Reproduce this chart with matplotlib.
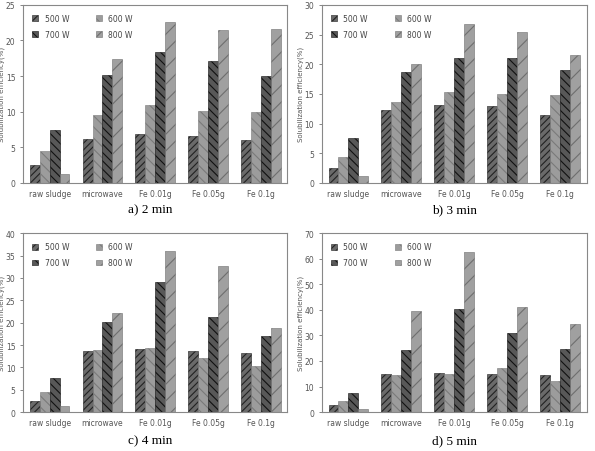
import numpy as np
import matplotlib.pyplot as plt

categories = ["raw sludge", "microwave", "Fe 0.01g", "Fe 0.05g", "Fe 0.1g"]
powers = ["500 W", "600 W", "700 W", "800 W"]

# values per panel: rows = power (500, 600, 700, 800 W), columns = categories
eff_2min = [
    [2.5, 6.2, 6.9, 6.6, 6.0],
    [4.5, 9.5, 11.0, 10.1, 10.0],
    [7.5, 15.1, 18.4, 17.1, 15.0],
    [1.2, 17.4, 22.6, 21.5, 21.6],
]
eff_3min = [
    [2.5, 12.3, 13.1, 12.9, 11.5],
    [4.4, 13.6, 15.3, 15.0, 14.9],
    [7.5, 18.65, 21.1, 21.0, 19.1],
    [1.2, 20.05, 26.85, 25.5, 21.6],
]
eff_4min = [
    [2.5, 13.7, 14.0, 13.75, 13.2],
    [4.5, 13.8, 14.3, 12.0, 10.2],
    [7.55, 20.1, 29.1, 21.15, 17.05],
    [1.3, 22.05, 36.0, 32.7, 18.8],
]
eff_5min = [
    [2.6, 14.9, 15.3, 14.9, 14.5],
    [4.3, 14.65, 14.9, 17.4, 12.0],
    [7.5, 24.3, 40.3, 30.9, 24.6],
    [1.4, 39.4, 62.5, 41.2, 34.5],
]

panels = [
    (eff_2min, 25, "a) 2 min"),
    (eff_3min, 30, "b) 3 min"),
    (eff_4min, 40, "c) 4 min"),
    (eff_5min, 70, "d) 5 min"),
]

fills = ["#6a6a6a", "#9c9c9c", "#585858", "#a0a0a0"]
hatch_cols = ["#222222", "#7a7a7a", "#111111", "#6e6e6e"]
hatches = ["/////", "\\\\\\", "\\\\\\\\", "//"]

plt.rcParams['hatch.linewidth'] = 0.8
plt.rcParams['font.family'] = ['DejaVu Sans']

fig = plt.figure(figsize=(5.95, 4.52), dpi=100)
rects = [
    [0.039, 0.593, 0.444, 0.394],
    [0.541, 0.593, 0.445, 0.394],
    [0.039, 0.086, 0.444, 0.396],
    [0.541, 0.086, 0.445, 0.396],
]
cap_pos = [(150, 210), (455, 210), (150, 441), (455, 441)]

x = np.arange(len(categories))
w = 0.1875

for (data, ymax, cap), r, cp in zip(panels, rects, cap_pos):
    ax = fig.add_axes(r)
    handles = []
    for i in range(4):
        b = ax.bar(x + (i - 1.5) * w, data[i], w, color=fills[i],
                   edgecolor=hatch_cols[i], hatch=hatches[i], linewidth=0.4,
                   label=powers[i])
        handles.append(b)
    ax.set_xlim(-0.5, 4.5)
    ax.set_ylim(0, ymax)
    ax.set_yticks(np.arange(0, ymax + 1, 5 if ymax <= 40 else 10))
    ax.set_xticks(x)
    ax.set_xticklabels(categories)
    ax.tick_params(axis='x', length=0, labelsize=5.5, colors='#555555', pad=4)
    ax.tick_params(axis='y', length=2, labelsize=5.5, colors='#555555', width=0.5)
    for s in ax.spines.values():
        s.set_color('#888888')
        s.set_linewidth(0.8)
    ax.set_ylabel("Solubilization efficiency(%)", fontsize=5, color='#555555')
    ax.yaxis.set_label_coords(-0.068, 0.5)
    order = [0, 2, 1, 3]
    ax.legend([handles[k] for k in order], [powers[k] for k in order], ncol=2,
              loc='upper left', frameon=False, fontsize=5.5, handlelength=0.8,
              handleheight=0.8, columnspacing=3.5, labelspacing=0.9,
              borderaxespad=0.8, labelcolor='#444444')
    fig.text(cp[0] / 595, 1 - cp[1] / 452, cap, family='Liberation Serif',
             fontsize=9.5, ha='center', va='center')

fig.savefig("out.png", dpi=100)
